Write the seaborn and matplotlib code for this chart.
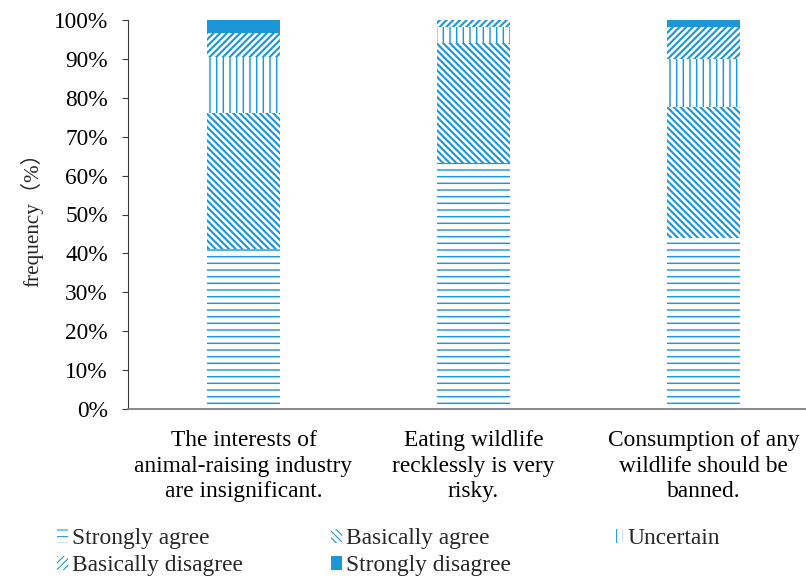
import matplotlib
matplotlib.use("Agg")
import matplotlib.pyplot as plt
import seaborn as sns
import numpy as np
import pandas as pd

# Survey statements (x categories)
statements = [
    "The interests of\nanimal-raising industry\nare insignificant.",
    "Eating wildlife\nrecklessly is very\nrisky.",
    "Consumption of any\nwildlife should be\nbanned.",
]

# Response levels, bottom to top of each stacked bar
levels = ["Strongly agree", "Basically agree", "Uncertain",
          "Basically disagree", "Strongly disagree"]

# Share of respondents (%) per statement
strongly_agree = [41.2, 63.3, 43.9]
basically_agree = [34.8, 30.7, 33.8]
uncertain = [14.6, 4.2, 12.2]
basically_disagree = [6.0, 1.8, 8.2]
strongly_disagree = [3.4, 0.0, 1.9]

ytick_labels = ["0%", "10%", "20%", "30%", "40%", "50%",
                "60%", "70%", "80%", "90%", "100%"]

series = [strongly_agree, basically_agree, uncertain,
          basically_disagree, strongly_disagree]
hatches = ["--", "\\\\\\\\", "||", "////", None]
hatch_widths = [1.3, 1.9, 1.3, 1.9, 1.0]
BLUE = "#1B97D7"
FS = 21

sns.set_theme(style="white")
plt.rcParams["font.family"] = ["Liberation Serif", "Noto Sans CJK SC"]

DPI = 80
W, H = 806, 578
fig = plt.figure(figsize=(W / DPI, H / DPI), dpi=DPI)
ax = fig.add_axes([128 / W, 1 - 409 / H, 1 - 128 / W, (409 - 20) / H])

values = np.array(series)
tops = np.cumsum(values, axis=0)

# Draw from the top segment down; each white-faced bar hides the part below.
handles = {}
for i in reversed(range(len(levels))):
    df = pd.DataFrame({"statement": statements, "top": tops[i]})
    with plt.rc_context({"hatch.linewidth": hatch_widths[i]}):
        n_before = len(ax.patches)
        if hatches[i] is None:
            sns.barplot(data=df, x="statement", y="top", color=BLUE,
                        saturation=1, width=0.317, linewidth=0,
                        edgecolor=BLUE, ax=ax)
        else:
            sns.barplot(data=df, x="statement", y="top", color="white",
                        saturation=1, width=0.317, linewidth=0,
                        edgecolor=BLUE, hatch=hatches[i], ax=ax)
        new = ax.patches[n_before:]
        for p in new:
            if hasattr(p, "set_hatch_linewidth"):
                p.set_hatch_linewidth(hatch_widths[i])
        handles[levels[i]] = new[0]

ax.set_xlim(-(243.5 - 128) / 230, 2 + (W - 703.5) / 230)
ax.set_ylim(0, 100)
ax.set_yticks(np.arange(0, 101, 10))
ax.set_yticklabels(ytick_labels)
ax.set_xlabel("")
ax.set_ylabel("frequency（%）", fontsize=19, labelpad=9)

for side in ["top", "right"]:
    ax.spines[side].set_visible(False)
ax.spines["left"].set_color("#3a3a3a")
ax.spines["left"].set_linewidth(1.0)
ax.spines["bottom"].set_color("#7f7f7f")
ax.spines["bottom"].set_linewidth(1.6)

ax.tick_params(axis="y", which="major", left=True, length=5, width=1.0,
               color="#3a3a3a", labelsize=FS, pad=13, labelcolor="black")
ax.tick_params(axis="x", bottom=False, labelsize=FS, pad=13,
               labelcolor="black")
for lab in ax.get_xticklabels():
    lab.set_linespacing(1.28)

# Legend: three fixed columns, filled row by row
columns = [(["Strongly agree", "Basically disagree"], 57),
           (["Basically agree", "Strongly disagree"], 331),
           (["Uncertain"], 612)]
for names, x0 in columns:
    fig.legend([handles[k] for k in names], names,
               loc="upper left", bbox_to_anchor=(x0 / W, 1 - 528 / H),
               ncol=1, frameon=False, fontsize=FS,
               handlelength=0.45, handleheight=0.55, handletextpad=0.2,
               labelspacing=0.25, borderaxespad=0, borderpad=0)

fig.savefig("out.png", dpi=DPI)
